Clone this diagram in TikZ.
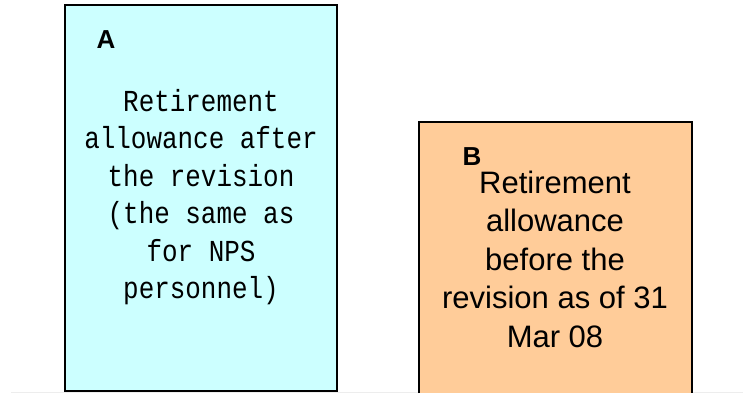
\documentclass[tikz,border=0pt]{standalone}
\usepackage{fontspec}
\setmainfont{Liberation Sans}
\newfontfamily\gothicfont[FakeStretch=0.85]{Liberation Mono}
\usepackage{xcolor}
\usepackage{tikz}
\usetikzlibrary{positioning}

\definecolor{afterblue}{HTML}{CCFFFF}
\definecolor{beforeorange}{HTML}{FFCC99}

\tikzset{
  boxletter/.style={font=\bfseries\fontsize{26}{30}\selectfont, inner sep=0pt},
  monotext/.style={align=center, inner sep=0pt, font=\gothicfont\fontsize{30.5}{37.5}\selectfont},
  sanstext/.style={align=center, inner sep=0pt, font=\fontsize{31}{38.5}\selectfont}
}

\begin{document}
\begin{tikzpicture}[x=1pt, y=-1pt]
  \useasboundingbox (0,0) rectangle (743,393);

  % ===== base line =====
  \draw[black!7, line width=1pt] (11,392.5) -- (743,392.5);

  % ===== Box A: after the revision =====
  \filldraw[fill=afterblue, draw=black, line width=1.2pt] (65,5) rectangle (337,391);
  \node[boxletter] (labelA) at (106,40) {A};
  \node[monotext] (textA) at (201,197)
    {Retirement\\allowance after\\the revision\\(the same as\\for NPS\\personnel)};

  % ===== Box B: before the revision (cut at the bottom) =====
  \fill[beforeorange] (419,122) rectangle (692,393);
  \draw[black, line width=1.2pt] (419,393) -- (419,122) -- (692,122) -- (692,393);
  \node[boxletter] (labelB) at (472,157) {B};
  \node[sanstext] (textB) at (555,259)
    {Retirement\\allowance\\before the\\revision as of 31\\Mar 08};
\end{tikzpicture}
\end{document}
